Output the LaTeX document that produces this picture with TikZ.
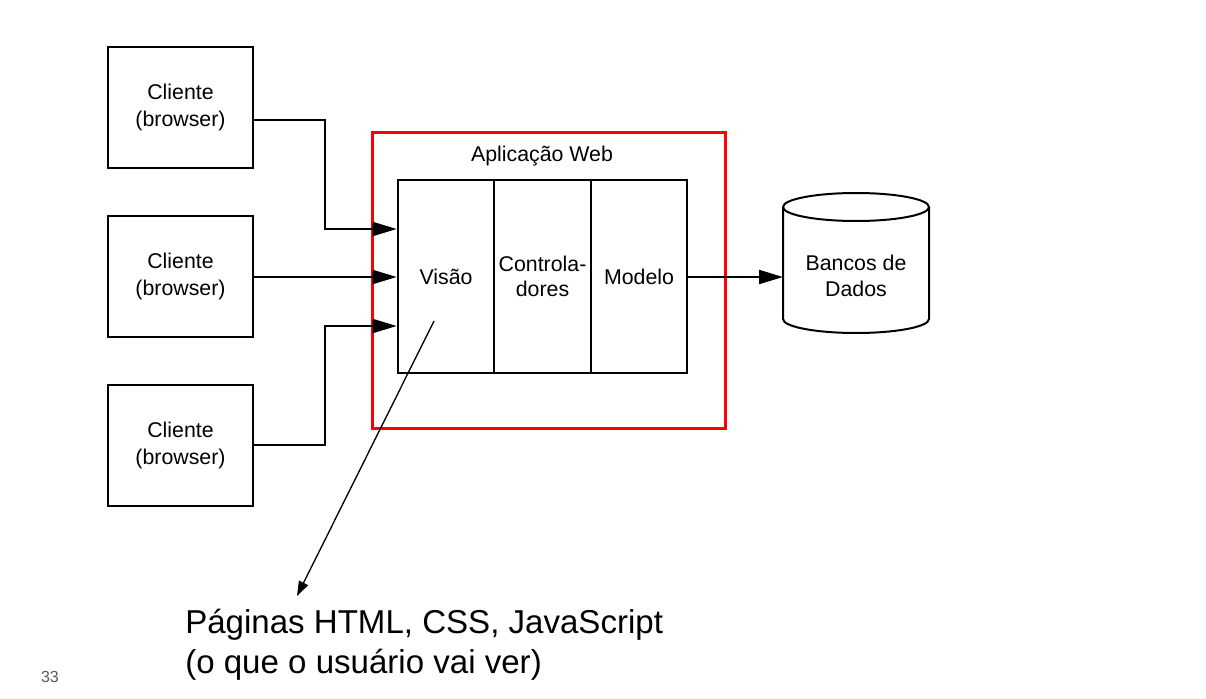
\documentclass[tikz,border=0pt]{standalone}
\usepackage{fontspec}
\setmainfont{Liberation Sans}
\usetikzlibrary{arrows.meta,calc}
\definecolor{pagegray}{RGB}{90,90,90}
\begin{document}
\begin{tikzpicture}[x=0.75pt,y=-0.75pt,
  box/.style={draw,line width=1.5pt,inner sep=0pt,align=center,
    font=\fontsize{16}{20}\selectfont},
  client/.style={box,minimum width=108.75pt,minimum height=90.75pt},
  part/.style={box,minimum width=72.5pt,minimum height=144.75pt},
  link/.style={line width=1.5pt,-{Triangle[length=18pt,width=10.5pt]}},
  pointer/.style={line width=1pt,-{Triangle[length=11pt,width=7.5pt]}}]
\useasboundingbox (0,0) rectangle (1206,699);

% clients
\node[client] (c1) at (180.5,107.5) {Cliente\\(browser)};
\node[client] (c2) at (180.5,276.5) {Cliente\\(browser)};
\node[client] (c3) at (180.5,445.5) {Cliente\\(browser)};

% web application frame
\node[draw=red,line width=2.25pt,minimum width=264.75pt,minimum height=222pt,
  inner sep=0pt] (app) at (548.5,280) {};
\node[font=\fontsize{16}{20}\selectfont] (apptitle) at (542,156) {Aplicação Web};

% MVC parts
\node[part] (visao) at (446,276.5) {Visão};
\node[part,font=\fontsize{16}{19}\selectfont] (ctrl) at (542.5,276.5) {Controla-\\dores};
\node[part] (modelo) at (639,276.5) {Modelo};

% database cylinder
\draw[line width=1.5pt,fill=white]
  (783,207) -- (783,319) arc[start angle=180,end angle=0,x radius=73,y radius=14]
  -- (929,207);
\draw[line width=1.5pt] (856,207) ellipse[x radius=73,y radius=14];
\node[align=center,font=\fontsize{16}{19}\selectfont] (db) at (856,276) {Bancos de\\Dados};

% client connectors
\draw[link] (c1.east |- 0,120) -- (325,120) |- (visao.west |- 0,229);
\draw[link] (c2.east |- 0,277) -- (visao.west |- 0,277);
\draw[link] (c3.east |- 0,445) -- (325,445) |- (visao.west |- 0,326);

% model to database
\draw[link] (modelo.east |- 0,277) -- (783,277);

% note on the view
\coordinate (tip) at (297,596);
\draw[pointer] (434,321) -- (tip);
\node[anchor=north west,align=left,inner sep=0pt,
  font=\fontsize{24.8}{30}\selectfont] (note) at (185,609)
  {Páginas HTML, CSS, JavaScript\\(o que o usuário vai ver)};

\node[text=pagegray,font=\fontsize{12}{14}\selectfont] (pagenum) at (50,677) {33};
\end{tikzpicture}
\end{document}
